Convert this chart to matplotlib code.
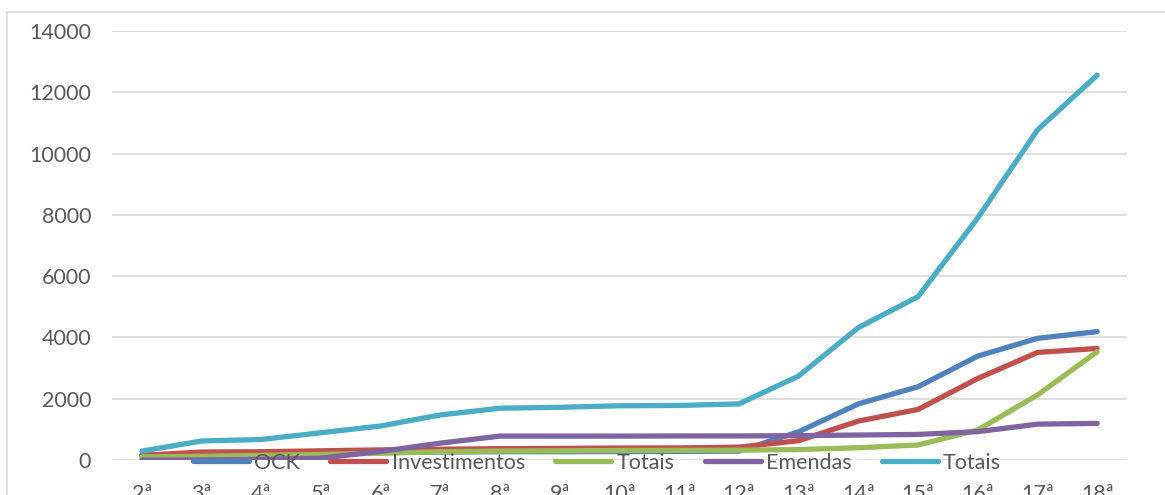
import matplotlib
matplotlib.use('Agg')
from matplotlib import pyplot as plt
from matplotlib.patches import Rectangle

plt.rcParams['font.family'] = ['Lato', 'DejaVu Sans']

# dados
rodadas = ['2ª', '3ª', '4ª', '5ª', '6ª', '7ª', '8ª', '9ª', '10ª', '11ª',
           '12ª', '13ª', '14ª', '15ª', '16ª', '17ª', '18ª']
ock = [150, 180, 200, 220, 240, 260, 270, 270, 275, 280, 290, 920, 1830,
       2390, 3390, 3970, 4190]
investimentos = [150, 260, 270, 300, 330, 350, 370, 380, 390, 395, 420, 630,
                 1270, 1650, 2660, 3510, 3640]
totais_1 = [100, 120, 150, 180, 220, 270, 290, 300, 310, 315, 320, 340, 400,
            490, 980, 2120, 3530]
emendas = [0, 0, 20, 60, 280, 550, 780, 780, 780, 785, 785, 795, 815, 835,
           925, 1170, 1195]
totais_2 = [290, 620, 670, 890, 1110, 1470, 1690, 1720, 1770, 1780, 1830,
            2740, 4320, 5330, 7900, 10770, 12560]

series = [('OCK', ock, '#4F81BD'),
          ('Investimentos', investimentos, '#C0504D'),
          ('Totais', totais_1, '#9BBB59'),
          ('Emendas', emendas, '#8064A2'),
          ('Totais', totais_2, '#4BACC6')]

W, H = 1165, 495
fig = plt.figure(figsize=(W / 100, H / 100), dpi=100)
ax = fig.add_axes([112 / W, (H - 460) / H, (1127 - 112) / W, 429 / H])

# moldura do gráfico (cortada na imagem)
fig.patches.append(Rectangle((7 / W, -0.1), 1.2, (H - 12) / H + 0.1,
                             transform=fig.transFigure, fill=False,
                             edgecolor='#d9d9d9', linewidth=1.2))

x = range(len(rodadas))
for nome, vals, cor in series:
    ax.plot(x, vals, color=cor, linewidth=3.8, label=nome,
            solid_capstyle='round', solid_joinstyle='round')

ax.set_xlim(-0.5, len(rodadas) - 0.5)
ax.set_ylim(0, 14000)
ax.set_yticks(range(0, 14001, 2000))
ax.set_xticks(list(x))
ax.set_xticklabels(rodadas)
ax.grid(axis='y', color='#d9d9d9', linewidth=1.2)
ax.set_axisbelow(True)
for s in ax.spines.values():
    s.set_visible(False)
ax.tick_params(axis='both', length=0, labelsize=15.5, colors='#595959')
ax.tick_params(axis='y', pad=15)
ax.tick_params(axis='x', pad=17)

fig.legend(loc='center', bbox_to_anchor=(597 / W, (H - 463) / H), ncol=5,
           frameon=False, fontsize=15.5, handlelength=2.6, columnspacing=1.4,
           handletextpad=0.25, labelcolor='#595959')

plt.savefig('out.png', dpi=100)
